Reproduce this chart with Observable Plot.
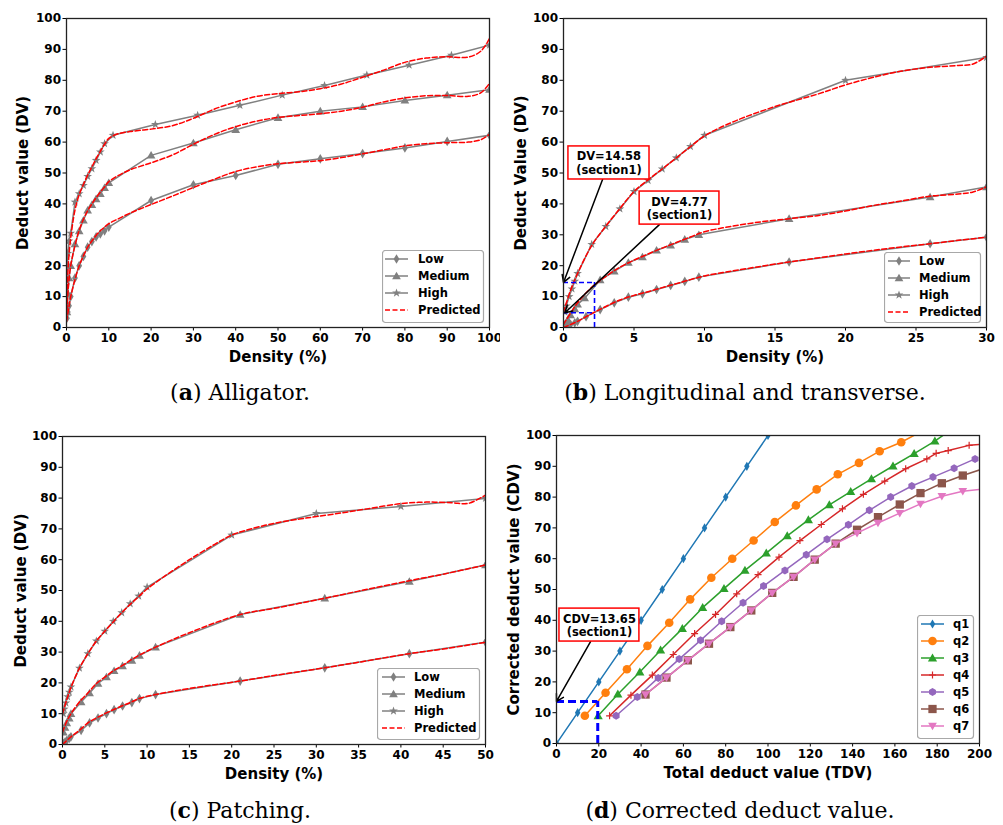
<!DOCTYPE html>
<html><head><meta charset="utf-8">
<script src="https://cdn.jsdelivr.net/npm/d3@7"></script>
<script src="https://cdn.jsdelivr.net/npm/@observablehq/plot@0.6"></script>
<style>
body{margin:0;background:#fff;}
#wrap{position:relative;width:1003px;height:825px;overflow:hidden;background:#fff;}
.cap{position:absolute;font-family:"DejaVu Serif",serif;font-size:22px;line-height:22px;text-align:center;color:#000;white-space:nowrap;}
</style></head><body><div id="wrap"></div>
<script>
// ---------- (a) Alligator ----------
const aLowX  = [0.1,0.3,0.6,1,2,3,4,5,6,7,8,9,10,20,30,40,50,60,70,80,90,100];
const aLowY  = [3,5,7,10,16,20,23,26,27.8,29.3,30.3,31.3,32.5,41.1,46.2,49.2,52.8,54.6,56.3,58.1,60.2,62.2];
const aMedX  = [0.1,0.3,0.6,1,2,3,4,5,6,7,8,9,10,20,30,40,50,60,70,80,90,100];
const aMedY  = [5,11,16,20,27,31.2,34.7,37.9,39.7,41.6,43.3,45.2,46.8,55.7,59.7,64,67.9,70,71.4,73.5,75.2,77];
const aHighX = [0.1,0.3,0.6,1,2,3,4,5,6,7,8,9,11,21,31,41,51,61,71,81,91,100];
const aHighY = [15,24,28,30.5,40.6,43.3,46,48.9,51.4,54.1,56.8,59.5,62.2,65.7,68.7,71.9,75.2,78.3,81.7,84.9,88.1,91.4];
const aPredX = [0,0.5,1,2,3,4,5,6,7,8,9,10,12,15,20,25,30,35,40,45,50,55,60,65,70,75,80,85,90,95,98,100];
const aPredLowY  = [2,6,10,15.5,20,23.2,26,28,29.8,31.3,32.5,33.6,35,37,39.8,42.5,45.3,48,50.5,52,53,53.5,54,55,56.2,57.5,58.8,59.5,59.8,60,60.8,62.5];
const aPredMedY  = [3,14,20,26.5,31.5,35,37.8,40,42,43.8,45.5,47.2,49,51,53.3,55.8,59.3,62.5,65,66.8,68,68.6,69.2,70,71.3,73,74.3,75,75.1,74.8,76,79];
const aPredHighY = [5,22,29,38,43,46.3,49.3,52,54.6,57,59.3,61.2,62.6,63.4,64.2,65.3,67.7,70.7,73,74.8,75.7,76.3,77.3,78.8,81,83.3,85.8,87.2,87.6,87.5,89.5,93.5];

// ---------- (b) Longitudinal and transverse ----------
const bLowX  = [0.1,0.3,0.5,0.8,1,1.6,2.6,3.6,4.6,5.6,6.6,7.6,8.6,9.6,16,26,30];
const bLowY  = [0.2,0.5,1,1.5,2,3.5,5.8,8,9.8,10.9,12.3,13.6,14.9,16.3,21.2,27.1,29.2];
const bMedX  = [0.1,0.3,0.5,0.8,1,1.5,2.6,3.6,4.6,5.6,6.6,7.6,8.6,9.6,16,26,30];
const bMedY  = [1,2.5,4,6,7.5,9.5,15.4,18.2,21,22.8,25,26.6,28.5,30,35.2,42.2,45.5];
const bHighX = [0.1,0.2,0.4,0.6,0.8,1,2,3,4,5,6,7,8,9,10,20,30];
const bHighY = [5,7,10,12.5,15,17.5,26.9,32.7,38.4,44,47.6,51.3,54.9,58.6,62.2,80,87.4];
const bPredLowX  = [0,1,2,3,4,5,6,7,8,9,10,12,14,16,18,20,22,24,26,28,30];
const bPredLowY  = [0,2,4.5,6.8,8.9,10.4,11.6,12.9,14.2,15.5,16.7,18.3,19.8,21.2,22.5,23.8,25,26.1,27.1,28.2,29.2];
const bPredMedX  = [0,1,2,3,4,5,6,7,8,9,10,12,14,16,18,20,22,24,26,28,29,30];
const bPredMedY  = [1,8,13,16.5,19.5,21.8,23.8,25.7,27.5,29.3,31,32.8,34.2,35.2,36.2,37.7,39.5,41,42.5,43.2,43.8,45.5];
const bPredHighX = [0,0.5,1,2,3,4,5,6,7,8,9,10,12,15,18,20,22,24,26,28,29,30];
const bPredHighY = [5,12,17.5,26.5,32.8,38.5,44,47.8,51.3,54.9,58.5,62,66.5,71.5,75.5,78.5,81,83,84.2,84.8,85.2,87.8];

// ---------- (c) Patching ----------
const cLowX  = [0.1,0.3,0.5,0.8,1,2.2,3.2,4.2,5.2,6.1,7.1,8.2,9.1,11,21,31,41,50];
const cLowY  = [0.3,0.8,1.3,2,2.5,4.6,7,8.6,10,11.3,12.5,13.6,14.9,16.2,20.6,24.9,29.5,33.2];
const cMedX  = [0.1,0.3,0.5,0.8,1,2.2,3.2,4.2,5.2,6.1,7.1,8.2,9.1,11,21,31,41,50];
const cMedY  = [4,5.5,7,8.5,10,13.8,16.7,19.8,21.9,23.9,25.5,27.3,28.9,31.6,42.2,47.5,52.9,58.3];
const cHighX = [0.1,0.2,0.4,0.6,0.8,1,2,3,4,5,6,7,8,9,10,20,30,40,50];
const cHighY = [10,11.5,13.5,15.5,17,18.7,24.8,29.5,33.6,36.8,40,42.8,45.7,48.2,51.1,68,75,77.3,79.9];
const cPredLowX  = [0,1,2,3,4,5,6,7,8,9,11,15,21,25,31,35,41,45,50];
const cPredLowY  = [0,2.5,4.6,7,8.6,10,11.3,12.5,13.6,14.9,16.2,18.2,20.6,22.4,24.9,26.7,29.5,31,33.2];
const cPredMedX  = [0,0.5,1,2,3,4,5,6,7,8,9,11,15,21,25,31,35,41,45,50];
const cPredMedY  = [4,7.5,10,13.8,16.7,19.8,21.9,23.9,25.5,27.3,28.9,31.6,36.3,42.2,44.2,47.5,49.8,53.2,55.3,58.3];
const cPredHighX = [0,0.5,1,2,3,4,5,6,7,8,9,10,12,15,18,20,22,25,28,30,33,36,40,43,46,48,50];
const cPredHighY = [10,14.5,18.5,24.8,29.5,33.6,36.8,39.8,42.8,45.5,48,50.5,54.5,60,65,68,69.8,71.8,73.2,74,75.2,76.5,78.2,78.7,78.5,78.3,81];

// ---------- (d) Corrected deduct value ----------
const q1X = [0,10,20,30,40,50,60,70,80,90,100];
const q1Y = [0,10,20,30,40,50,60,70,80,90,100];
const q2X = [13.4,23.2,33.3,43,53.3,63.2,73.2,83.1,93.2,103.2,113.2,123,133,143,152.8,163,173];
const q2Y = [9,16.5,24.1,31.7,39.2,46.8,53.8,60,65.9,71.9,77.3,82.5,87.4,91.1,94.9,97.8,101.5];
const q3X = [19.7,29,39.4,49.2,59.5,69.1,79.2,89.1,99.2,109.1,119.1,129,139.1,148.9,159.1,169.1,178.9,188.9];
const q3Y = [9,16,23.2,30.3,37.3,44.1,50.3,56.2,61.8,67.4,72.6,77.5,81.8,85.9,90.1,94.1,98.2,103];
const q4X = [25.1,35.2,45.3,55.2,65.3,75.2,85.2,95.3,105.2,115.1,125.2,135.2,145.1,155.2,165.1,175.1,179.5,185.2,195.1,205.2];
const q4Y = [9,15.7,22.2,28.9,35.7,41.9,48.6,54.8,60.5,65.9,71.1,76.2,80.9,85.2,89.2,92.4,94.2,95.1,96.8,97.4];
const q5X = [28.2,38.2,48.1,58,68.1,78.1,88.2,97.9,108,118.1,127.9,138,147.9,158,168,178,188,197.9];
const q5Y = [9,15.1,21.3,27.4,33.5,39.7,45.7,51.1,56.2,61.3,66.3,71,75.7,80,83.6,86.5,89.4,92.4];
const q6X = [42.1,52,62.1,72.1,82.2,92.1,102,112.1,122.1,132,142.1,152,162.3,172.1,182.2,192.1,202.1];
const q6Y = [15.9,21.4,27,32.4,37.8,43.2,48.9,54.1,59.7,64.9,69.4,73.5,77.6,81.3,84.5,87,89.3];
const q7X = [42.1,52,62.1,72.1,82.2,92.1,102,112.1,122.1,132,142.1,152,162.3,172.1,182.2,192.1,202.1];
const q7Y = [15.9,21.4,27,32.4,37.8,43.2,48.9,54.1,59.7,64.9,68.3,71.6,74.8,77.8,80.3,81.9,82.6];

const legendABC = ["Low","Medium","High","Predicted"];
const legendD = ["q1","q2","q3","q4","q5","q6","q7"];
const captions = [["a","Alligator."],["b","Longitudinal and transverse."],["c","Patching."],["d","Corrected deduct value."]];

// ---------- symbols ----------
const thinDiamond = {draw(ctx,size){const r=Math.sqrt(size/Math.PI);ctx.moveTo(0,-r*1.35);ctx.lineTo(r*0.8,0);ctx.lineTo(0,r*1.35);ctx.lineTo(-r*0.8,0);ctx.closePath();}};
const triUp = {draw(ctx,size){const r=Math.sqrt(size/Math.PI);ctx.moveTo(0,-r*1.15);ctx.lineTo(r*1.15,r*0.85);ctx.lineTo(-r*1.15,r*0.85);ctx.closePath();}};
const triDown = {draw(ctx,size){const r=Math.sqrt(size/Math.PI);ctx.moveTo(0,r*1.15);ctx.lineTo(r*1.15,-r*0.85);ctx.lineTo(-r*1.15,-r*0.85);ctx.closePath();}};
const hexagon = {draw(ctx,size){const r=Math.sqrt(size/Math.PI)*1.05;for(let i=0;i<6;i++){const a=Math.PI/3*i-Math.PI/2;const px=r*Math.cos(a),py=r*Math.sin(a);if(i)ctx.lineTo(px,py);else ctx.moveTo(px,py);}ctx.closePath();}};
const star5 = {draw(ctx,size){const R=Math.sqrt(size/Math.PI)*1.35,r2=R*0.4;for(let i=0;i<10;i++){const a=Math.PI/5*i-Math.PI/2;const rr=i%2?r2:R;const px=rr*Math.cos(a),py=rr*Math.sin(a);if(i)ctx.lineTo(px,py);else ctx.moveTo(px,py);}ctx.closePath();}};
const squareSym = {draw(ctx,size){const r=Math.sqrt(size/Math.PI)*0.9;ctx.rect(-r,-r,2*r,2*r);}};
const circleSym = {draw(ctx,size){const r=Math.sqrt(size/Math.PI);ctx.moveTo(r,0);ctx.arc(0,0,r,0,2*Math.PI);}};
const plusSym = {draw(ctx,size){const r=Math.sqrt(size/Math.PI);ctx.moveTo(-r,0);ctx.lineTo(r,0);ctx.moveTo(0,-r);ctx.lineTo(0,r);}};

const wrap = document.getElementById("wrap");
const GRAY = "#808080";
const pts = (X,Y) => X.map((x,i)=>({x, y:Y[i]}));

function series(X,Y,{color=GRAY,symbol,r=4,stroked=false,sw=1.5}){
  const d = pts(X,Y);
  return [
    Plot.line(d,{x:"x",y:"y",stroke:color,strokeWidth:sw,clip:true}),
    Plot.dot(d,{x:"x",y:"y",symbol,r,fill:stroked?"none":color,stroke:stroked?color:"none",strokeWidth:stroked?1.2:0,clip:true})
  ];
}
function pred(X,Y){
  return Plot.line(pts(X,Y),{x:"x",y:"y",stroke:"#ff0000",strokeWidth:1.5,strokeDasharray:"5,2.5",curve:"catmull-rom",clip:true});
}

function panel({left,top,width,height=375,m,xDomain,xTicks,xLabel,yLabel,xLabelDy,yLabelDx,marks}){
  const p = Plot.plot({
    width,height,marginTop:m[0],marginRight:m[1],marginBottom:m[2],marginLeft:m[3],
    style:{fontFamily:"'DejaVu Sans', sans-serif",fontSize:"12px",fontWeight:"bold",color:"#000",background:"#fff"},
    x:{domain:xDomain,ticks:xTicks,tickSize:3.5,tickPadding:2,label:null},
    y:{domain:[0,100],ticks:d3.range(0,101,10),tickSize:3.5,tickPadding:2,label:null},
    marks:[
      ...marks,
      Plot.frame({stroke:"#222",strokeWidth:1.3}),
      Plot.text([xLabel],{text:d=>d,frameAnchor:"bottom",textAnchor:"middle",lineAnchor:"middle",dy:xLabelDy,fontSize:15,fontWeight:"bold"}),
      Plot.text([yLabel],{text:d=>d,frameAnchor:"left",textAnchor:"middle",lineAnchor:"middle",rotate:-90,dx:yLabelDx,fontSize:15,fontWeight:"bold"})
    ]
  });
  p.style.position="absolute";p.style.left=left+"px";p.style.top=top+"px";p.style.overflow="hidden";
  wrap.appendChild(p);
}

function legend({left,top,width,height,rowStart,rowGap,lx0,lx1,tx,rows}){
  const svg = d3.create("svg").attr("width",width+2).attr("height",height+2)
    .style("position","absolute").style("left",left+"px").style("top",top+"px");
  svg.append("rect").attr("x",0.5).attr("y",0.5).attr("width",width).attr("height",height).attr("rx",3)
    .attr("fill","white").attr("fill-opacity",0.9).attr("stroke","#a8a8a8").attr("stroke-width",1.2);
  rows.forEach((r,i)=>{
    const y = rowStart+i*rowGap;
    svg.append("line").attr("x1",lx0).attr("x2",lx1).attr("y1",y).attr("y2",y)
      .attr("stroke",r.color).attr("stroke-width",1.5).attr("stroke-dasharray",r.dash||null);
    if(r.symbol) svg.append("path").attr("transform",`translate(${(lx0+lx1)/2},${y})`)
      .attr("d",d3.symbol(r.symbol,Math.PI*r.r*r.r)())
      .attr("fill",r.stroked?"none":r.color).attr("stroke",r.stroked?r.color:"none").attr("stroke-width",1.2);
    svg.append("text").attr("x",tx).attr("y",y).attr("dy","0.35em")
      .attr("font-family","DejaVu Sans").attr("font-weight","bold").attr("font-size",11.5).text(r.label);
  });
  wrap.appendChild(svg.node());
}

const grayRows = [
  {label:legendABC[0],color:GRAY,symbol:thinDiamond,r:3.6},
  {label:legendABC[1],color:GRAY,symbol:triUp,r:3.8},
  {label:legendABC[2],color:GRAY,symbol:star5,r:3.4},
  {label:legendABC[3],color:"#ff0000",dash:"5,2.5"}
];

// (a)
panel({left:0,top:0,width:500,m:[18,11,48,66],xDomain:[0,100],xTicks:d3.range(0,101,10),
  xLabel:"Density (%)",yLabel:"Deduct value (DV)",xLabelDy:30,yLabelDx:-43,
  marks:[
    ...series(aLowX,aLowY,{symbol:thinDiamond,r:3.6}),
    ...series(aMedX,aMedY,{symbol:triUp,r:3.8}),
    ...series(aHighX,aHighY,{symbol:star5,r:3.4}),
    pred(aPredX,aPredLowY),pred(aPredX,aPredMedY),pred(aPredX,aPredHighY)
  ]});
legend({left:382,top:250,width:101,height:72,rowStart:9,rowGap:17,lx0:3,lx1:26,tx:36,rows:grayRows});

// (b)
panel({left:500,top:0,width:503,m:[18,17,48,63],xDomain:[0,30],xTicks:d3.range(0,31,5),
  xLabel:"Density (%)",yLabel:"Deduct Value (DV)",xLabelDy:30,yLabelDx:-42,
  marks:[
    ...series(bLowX,bLowY,{symbol:thinDiamond,r:3.6}),
    ...series(bMedX,bMedY,{symbol:triUp,r:3.8}),
    ...series(bHighX,bHighY,{symbol:star5,r:3.4}),
    pred(bPredLowX,bPredLowY),pred(bPredMedX,bPredMedY),pred(bPredHighX,bPredHighY),
    Plot.ruleY([14.58],{x1:0,x2:2.2,stroke:"#0000ff",strokeWidth:1.6,strokeDasharray:"5,3"}),
    Plot.ruleY([4.77],{x1:0,x2:2.2,stroke:"#0000ff",strokeWidth:1.6,strokeDasharray:"5,3"}),
    Plot.ruleX([2.2],{y1:0,y2:14.58,stroke:"#0000ff",strokeWidth:1.6,strokeDasharray:"5,3"}),
    Plot.arrow([0],{x1:2.77,y1:47.9,x2:0,y2:14.58,stroke:"#000",strokeWidth:1.5,headLength:8}),
    Plot.arrow([0],{x1:6.8,y1:33.3,x2:0.1,y2:4.77,stroke:"#000",strokeWidth:1.5,headLength:8}),
    Plot.rect([0],{x1:0.35,x2:6.1,y1:47.9,y2:58.6,fill:"white",stroke:"#ff0000",strokeWidth:1.5}),
    Plot.text([0],{x:3.22,y:53.25,text:()=>"DV=14.58\n(section1)",fontSize:11.5,lineHeight:1.2}),
    Plot.rect([0],{x1:5.4,x2:11.06,y1:33.3,y2:44,fill:"white",stroke:"#ff0000",strokeWidth:1.5}),
    Plot.text([0],{x:8.23,y:38.65,text:()=>"DV=4.77\n(section1)",fontSize:11.5,lineHeight:1.2})
  ]});
legend({left:884,top:252,width:96,height:70,rowStart:9,rowGap:17,lx0:4,lx1:26,tx:35,rows:grayRows});

// (c)
panel({left:0,top:420,width:500,m:[16,15,51,62],xDomain:[0,50],xTicks:d3.range(0,51,5),
  xLabel:"Density (%)",yLabel:"Deduct value (DV)",xLabelDy:30,yLabelDx:-41,
  marks:[
    ...series(cLowX,cLowY,{symbol:thinDiamond,r:3.6}),
    ...series(cMedX,cMedY,{symbol:triUp,r:3.8}),
    ...series(cHighX,cHighY,{symbol:star5,r:3.4}),
    pred(cPredLowX,cPredLowY),pred(cPredMedX,cPredMedY),pred(cPredHighX,cPredHighY)
  ]});
legend({left:377,top:668,width:102,height:71,rowStart:9,rowGap:17,lx0:5,lx1:28,tx:37,rows:grayRows});

// (d)
const tab = ["#1f77b4","#ff7f0e","#2ca02c","#d62728","#9467bd","#8c564b","#e377c2"];
const dSpecs = [
  {X:q1X,Y:q1Y,symbol:thinDiamond,r:3.4},
  {X:q2X,Y:q2Y,symbol:circleSym,r:4.3},
  {X:q3X,Y:q3Y,symbol:triUp,r:4},
  {X:q4X,Y:q4Y,symbol:plusSym,r:3.5,stroked:true},
  {X:q5X,Y:q5Y,symbol:hexagon,r:3.8},
  {X:q6X,Y:q6Y,symbol:squareSym,r:4.6},
  {X:q7X,Y:q7Y,symbol:triDown,r:3.8}
];
panel({left:500,top:420,width:503,m:[15,24,52,56],xDomain:[0,200],xTicks:d3.range(0,201,20),
  xLabel:"Total deduct value (TDV)",yLabel:"Corrected deduct value (CDV)",xLabelDy:30,yLabelDx:-42,
  marks:[
    ...dSpecs.flatMap((s,i)=>series(s.X,s.Y,{color:tab[i],symbol:s.symbol,r:s.r,stroked:s.stroked})),
    Plot.ruleY([13.65],{x1:0,x2:19.5,stroke:"#0000ff",strokeWidth:3,strokeDasharray:"8,4"}),
    Plot.ruleX([19.5],{y1:0,y2:13.65,stroke:"#0000ff",strokeWidth:3,strokeDasharray:"8,4"}),
    Plot.arrow([0],{x1:16.1,y1:33.1,x2:0,y2:13.65,stroke:"#000",strokeWidth:1.5,headLength:8}),
    Plot.rect([0],{x1:1.4,x2:39.2,y1:33.1,y2:43.8,fill:"white",stroke:"#ff0000",strokeWidth:1.5}),
    Plot.text([0],{x:20.3,y:38.45,text:()=>"CDV=13.65\n(section1)",fontSize:11.5,lineHeight:1.2})
  ]});
legend({left:917,top:615,width:56,height:123,rowStart:9,rowGap:17,lx0:4,lx1:27,tx:36,
  rows:dSpecs.map((s,i)=>({label:legendD[i],color:tab[i],symbol:s.symbol,r:s.r,stroked:s.stroked}))});

// captions
const capPos = [[0,381,480],[500,381,490],[0,799,480],[500,799,480]];
captions.forEach(([k,t],i)=>{
  const d = document.createElement("div");
  d.className="cap";
  d.style.left=capPos[i][0]+"px";d.style.top=capPos[i][1]+"px";d.style.width=capPos[i][2]+"px";
  d.innerHTML = `(<b>${k}</b>) ${t}`;
  wrap.appendChild(d);
});
</script></body></html>
